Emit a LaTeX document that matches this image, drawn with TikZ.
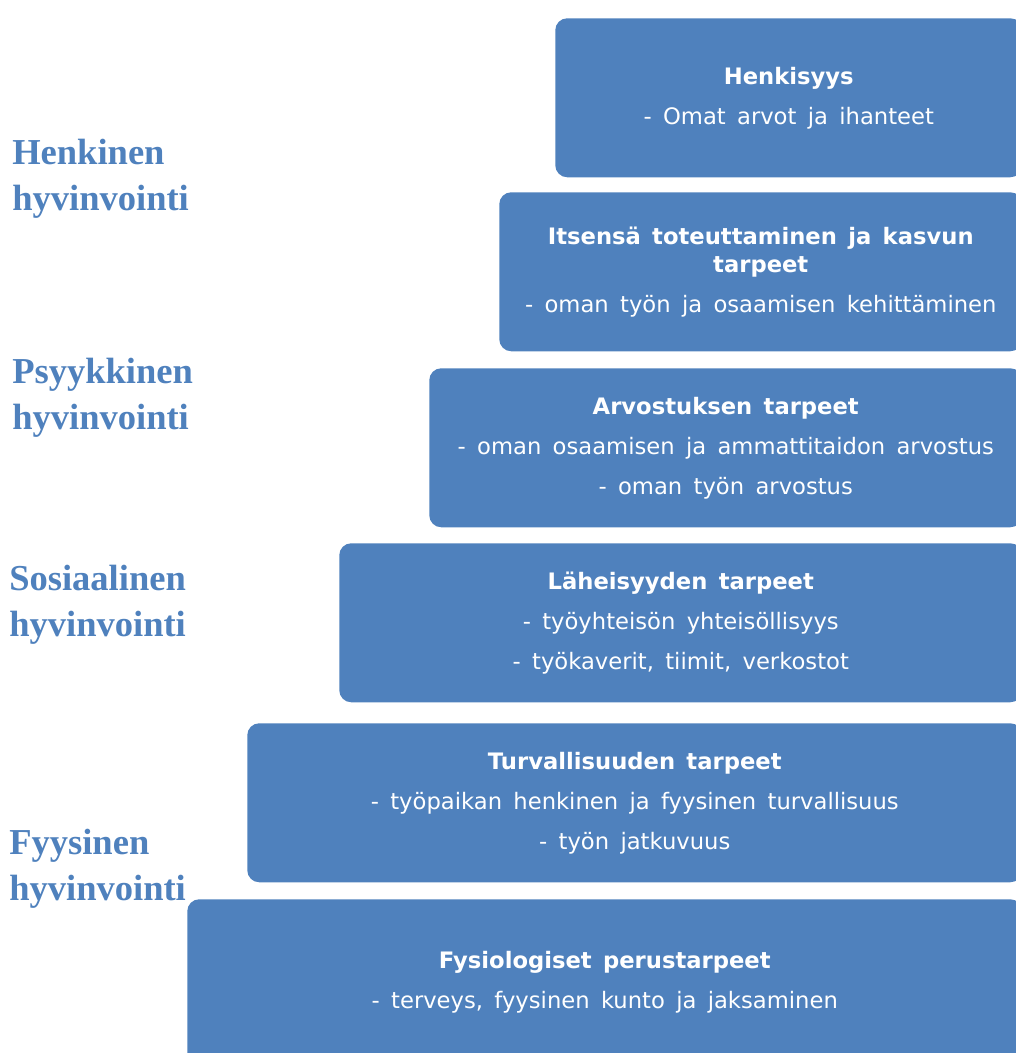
\documentclass[tikz,border=0pt]{standalone}
\usepackage{fontspec}
\setmainfont{DejaVu Sans}
\newfontfamily\otsikkofont{Liberation Serif}
\definecolor{tasosin}{HTML}{4F81BD}
\newcommand{\tasofont}{\fontsize{17}{21}\selectfont\spaceskip 0.5em\relax}

\begin{document}
\begin{tikzpicture}[x=0.75pt, y=-0.75pt,
	taso/.style={fill=tasosin, rounded corners=9pt, text=white, align=center, anchor=north west,
		inner sep=0pt, font=\tasofont},
	hyvi/.style={anchor=base west, align=left, text=tasosin, inner sep=0pt,
		font=\otsikkofont\bfseries\fontsize{27.4}{34.5}\selectfont}]
	\useasboundingbox (0,0) rectangle (1016,1053);
	\begin{scope}
	\clip (0,0) rectangle (1016,1053);
	\node[taso, minimum width=467*0.75pt, minimum height=159*0.75pt] (henkisyys) at (555,18)
		{\textbf{Henkisyys}\\[9pt] - Omat arvot ja ihanteet};
	\node[taso, minimum width=523*0.75pt, minimum height=159*0.75pt] (itsensa) at (499,192)
		{\textbf{Itsensä toteuttaminen ja kasvun}\\ \textbf{tarpeet}\\[9pt] - oman työn ja osaamisen kehittäminen};
	\node[taso, minimum width=593*0.75pt, minimum height=159*0.75pt] (arvostus) at (429,368)
		{\textbf{Arvostuksen tarpeet}\\[9pt] - oman osaamisen ja ammattitaidon arvostus\\[9pt] - oman työn arvostus};
	\node[taso, minimum width=683*0.75pt, minimum height=159*0.75pt] (laheisyys) at (339,543)
		{\textbf{Läheisyyden tarpeet}\\[9pt] - työyhteisön yhteisöllisyys\\[9pt] - työkaverit, tiimit, verkostot};
	\node[taso, minimum width=775*0.75pt, minimum height=159*0.75pt] (turva) at (247,723)
		{\textbf{Turvallisuuden tarpeet}\\[9pt] - työpaikan henkinen ja fyysinen turvallisuus\\[9pt] - työn jatkuvuus};
	\node[taso, minimum width=835*0.75pt, minimum height=166*0.75pt] (fysio) at (187,899)
		{\textbf{Fysiologiset perustarpeet}\\[9pt] - terveys, fyysinen kunto ja jaksaminen};
	\end{scope}

	\node[hyvi] (henkinen) at (12,210) {Henkinen\\hyvinvointi};
	\node[hyvi] (psyykkinen) at (12,429) {Psyykkinen\\hyvinvointi};
	\node[hyvi] (sosiaalinen) at (9,636) {Sosiaalinen\\hyvinvointi};
	\node[hyvi] (fyysinen) at (9,900) {Fyysinen\\hyvinvointi};
\end{tikzpicture}
\end{document}
